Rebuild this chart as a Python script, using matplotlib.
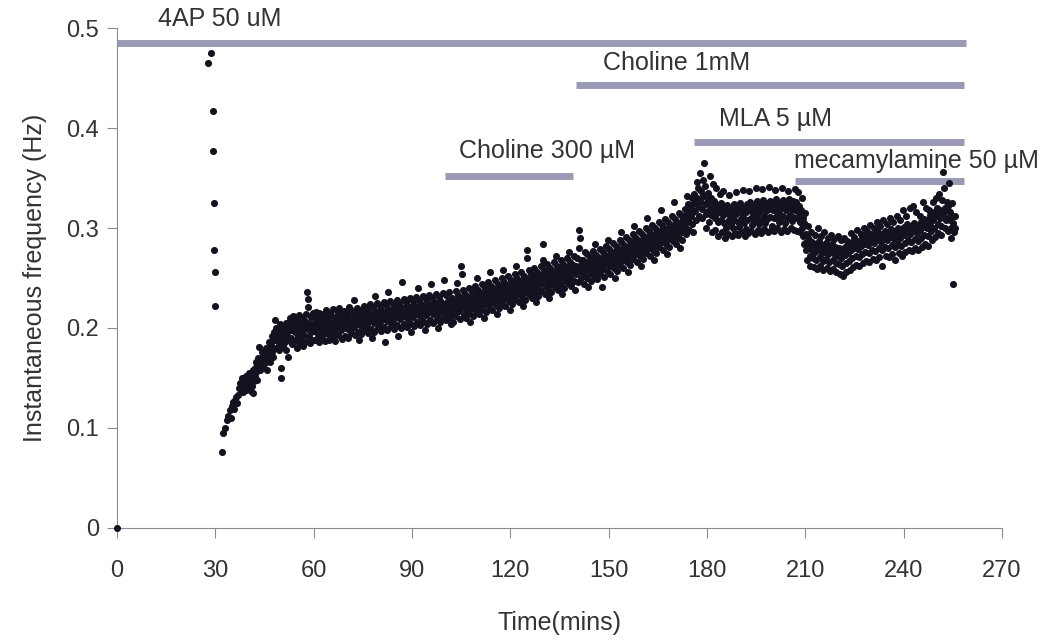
import matplotlib
matplotlib.use("Agg")
import matplotlib.pyplot as plt

plt.rcParams['font.family'] = ['Liberation Sans', 'DejaVu Sans']

# readings in mHz, one inner list per minute
onset_start = 32
onset_vals = [
    [76, 95], [100, 108], [112, 118, 110], [122, 126, 119], [128, 131, 125],
    [133, 140, 145, 138], [141, 150, 136, 147], [143, 138, 152, 146],
    [148, 140, 155, 145, 137], [150, 142, 158, 135, 147], [160, 152, 166, 148, 157],
    [170, 162, 181, 158, 168], [168, 176, 160, 172, 165], [173, 165, 180, 170, 158],
    [178, 170, 186, 175, 166, 182], [185, 176, 192, 180, 171, 188],
    [196, 208, 188, 180, 200, 192], [190, 198, 185, 178, 204, 195],
    [160, 150, 188, 195, 182, 200], [193, 186, 200, 178, 205, 190],
    [195, 171, 203, 188, 210, 198], [198, 190, 206, 184, 212, 200],
    [211, 205, 196, 188, 200, 180], [200, 192, 208, 185, 213, 197],
    [203, 195, 188, 210, 199, 182], [200, 193, 207, 186, 214, 204],
    [236, 229, 221, 205, 191, 198, 185], [204, 196, 211, 188, 200, 215],
]

early_start = 60
early_vals = [
    [205, 197, 212, 188, 201, 216], [200, 208, 193, 215, 186, 203],
    [208, 199, 214, 190, 204, 196], [203, 212, 195, 187, 207, 218],
    [201, 209, 194, 215, 188, 205], [206, 198, 213, 191, 202, 219],
    [204, 211, 196, 187, 208, 200], [209, 201, 216, 193, 205, 220],
    [203, 212, 198, 189, 207, 215], [208, 200, 217, 192, 204, 211],
    [206, 214, 199, 190, 210, 221], [211, 203, 218, 195, 207, 200],
    [209, 228, 201, 193, 214, 205], [213, 204, 220, 196, 209, 188],
    [210, 218, 202, 194, 215, 207], [214, 206, 222, 198, 210, 201],
    [212, 219, 204, 195, 216, 208], [215, 207, 224, 199, 211, 190],
    [213, 221, 205, 196, 217, 232], [216, 208, 225, 200, 212, 204],
    [214, 222, 206, 197, 218, 210], [217, 209, 226, 201, 213, 186],
    [215, 223, 207, 198, 219, 236], [218, 210, 227, 202, 214, 206],
    [216, 224, 208, 199, 220, 212], [219, 211, 228, 203, 215, 192],
    [217, 225, 209, 200, 221, 213], [246, 220, 212, 229, 204, 216],
    [218, 226, 210, 201, 222, 214], [221, 213, 230, 205, 217, 196],
    [219, 227, 211, 202, 223, 215], [222, 214, 231, 206, 218, 240],
    [220, 228, 212, 203, 224, 216], [223, 215, 232, 207, 219, 198],
    [221, 229, 213, 204, 225, 217], [224, 216, 233, 208, 220, 244],
    [222, 230, 214, 205, 226, 218], [225, 217, 234, 209, 221, 200],
    [223, 231, 215, 206, 227, 219], [226, 218, 235, 210, 222, 248],
]

ch300_start = 100
ch300_vals = [
    [224, 216, 233, 208, 220, 212], [227, 219, 236, 211, 223, 204],
    [222, 230, 214, 206, 226, 218], [228, 220, 237, 212, 224, 245],
    [225, 233, 217, 209, 229, 221], [262, 254, 229, 221, 238, 213],
    [226, 234, 218, 210, 230, 222], [231, 223, 240, 215, 227, 206],
    [228, 236, 220, 212, 232, 224], [233, 225, 242, 217, 229, 250],
    [230, 238, 222, 214, 234, 226], [235, 227, 244, 219, 231, 210],
    [232, 240, 224, 216, 236, 228], [237, 229, 246, 221, 233, 256],
    [234, 242, 226, 218, 238, 230], [239, 231, 248, 223, 235, 214],
    [236, 244, 228, 220, 240, 232], [241, 233, 250, 225, 237, 258],
    [238, 246, 230, 222, 242, 234], [243, 235, 252, 227, 239, 218],
    [240, 248, 232, 224, 244, 236], [245, 237, 254, 229, 241, 262],
    [242, 250, 234, 226, 246, 238], [247, 239, 256, 231, 243, 222],
    [244, 252, 236, 228, 248, 240], [278, 270, 249, 241, 258, 233],
    [246, 254, 238, 230, 250, 242], [251, 243, 260, 235, 247, 226],
    [248, 256, 240, 232, 252, 244], [253, 245, 262, 237, 249, 268],
    [284, 250, 258, 242, 234, 254], [255, 247, 264, 239, 251, 230],
    [252, 260, 244, 236, 256, 248], [257, 249, 266, 241, 253, 272],
    [254, 262, 246, 238, 258, 250], [259, 251, 268, 243, 255, 234],
    [256, 264, 248, 240, 260, 252], [261, 253, 270, 245, 257, 276],
    [258, 266, 250, 242, 262, 254], [263, 255, 272, 247, 259, 238],
]

ch1_start = 140
ch1_vals = [
    [262, 254, 270, 246, 258, 280], [298, 290, 262, 250, 268, 256],
    [260, 268, 252, 244, 264, 276], [266, 258, 274, 250, 262, 241],
    [263, 271, 255, 247, 267, 259], [268, 260, 277, 252, 264, 284],
    [265, 273, 257, 249, 269, 261], [270, 262, 279, 254, 266, 241],
    [267, 276, 259, 251, 272, 264], [273, 265, 282, 257, 269, 288],
    [270, 279, 262, 254, 275, 266], [276, 268, 285, 260, 272, 250],
    [273, 282, 265, 257, 278, 269], [279, 271, 288, 263, 275, 296],
    [276, 285, 268, 260, 281, 272], [282, 274, 291, 266, 278, 256],
    [279, 288, 271, 263, 284, 275], [285, 277, 294, 269, 281, 302],
    [282, 291, 274, 266, 287, 278], [288, 280, 297, 272, 284, 262],
    [285, 294, 277, 269, 290, 281], [291, 283, 300, 275, 287, 310],
    [288, 297, 280, 272, 293, 284], [294, 286, 303, 278, 290, 268],
    [291, 300, 283, 275, 296, 287], [297, 289, 306, 281, 293, 318],
    [294, 303, 286, 278, 299, 290], [300, 292, 309, 284, 296, 274],
    [297, 306, 289, 281, 302, 293], [303, 295, 312, 287, 299, 326],
    [300, 309, 292, 284, 305, 296], [306, 298, 315, 290, 302, 280],
    [304, 313, 296, 288, 309, 300], [310, 302, 319, 294, 306, 332],
    [315, 324, 307, 298, 320, 311], [320, 312, 330, 304, 316, 296],
]

mla_start = 176
mla_vals = [
    [325, 334, 317, 308, 330, 346], [330, 322, 340, 312, 326, 355],
    [328, 337, 319, 310, 333, 348], [365, 332, 324, 342, 314, 300],
    [326, 335, 317, 306, 331, 352], [322, 330, 313, 296, 326, 344],
    [318, 327, 310, 298, 323, 340], [315, 323, 306, 292, 319, 334],
    [316, 325, 308, 296, 320, 337], [313, 321, 305, 290, 317, 300],
    [315, 323, 307, 294, 319, 333], [312, 320, 304, 292, 316, 300],
    [316, 324, 308, 295, 320, 336], [314, 322, 306, 293, 318, 301],
    [317, 325, 309, 296, 321, 338], [313, 321, 305, 292, 317, 299],
    [316, 324, 308, 295, 320, 337], [318, 326, 310, 297, 322, 303],
    [315, 323, 307, 294, 319, 340], [319, 327, 311, 298, 323, 304],
    [316, 324, 308, 295, 320, 339], [320, 328, 312, 299, 324, 305],
    [317, 325, 309, 296, 321, 341], [319, 327, 311, 298, 323, 302],
    [318, 326, 310, 297, 322, 338], [321, 329, 313, 300, 325, 306],
    [317, 325, 309, 296, 321, 340], [320, 328, 312, 299, 324, 305],
    [318, 326, 310, 297, 322, 337], [321, 329, 313, 300, 325, 307],
    [319, 327, 311, 298, 323, 339],
]

mec_start = 207
mec_vals = [
    [318, 326, 310, 297, 322, 336], [315, 322, 306, 296, 318, 330],
    [300, 310, 292, 284, 305, 315], [285, 294, 278, 268, 290, 302],
    [280, 288, 272, 262, 284, 296], [278, 286, 270, 261, 282, 293],
    [276, 284, 268, 259, 280, 300], [279, 287, 271, 262, 283, 292],
    [275, 283, 267, 258, 279, 296], [277, 285, 269, 260, 281, 290],
    [274, 282, 266, 257, 278, 293], [276, 284, 268, 259, 280, 289],
    [273, 281, 265, 256, 277, 292], [272, 280, 264, 254, 276, 288],
    [270, 278, 262, 252, 274, 290], [273, 281, 265, 256, 277, 287],
    [275, 283, 267, 258, 279, 295], [278, 286, 270, 261, 282, 291],
    [280, 288, 272, 263, 284, 298], [279, 287, 271, 262, 283, 294],
    [282, 290, 274, 265, 286, 300], [284, 292, 276, 267, 288, 297],
    [283, 291, 275, 266, 287, 303], [286, 294, 278, 269, 290, 300],
    [285, 293, 277, 268, 289, 306], [288, 296, 280, 271, 292, 302],
    [286, 294, 278, 262, 290, 308], [289, 297, 281, 272, 293, 304],
    [288, 296, 280, 271, 292, 310], [291, 299, 283, 274, 295, 306],
    [289, 297, 281, 268, 293, 312], [292, 300, 284, 275, 296, 308],
    [290, 298, 282, 272, 294, 318], [293, 301, 285, 276, 297, 312],
    [296, 304, 288, 278, 300, 320], [294, 302, 286, 277, 298, 322],
    [297, 305, 289, 280, 301, 316], [295, 303, 287, 278, 299, 312],
    [298, 306, 290, 281, 302, 326], [301, 309, 293, 284, 305, 320],
    [300, 308, 292, 282, 304, 318], [305, 313, 297, 288, 309, 326],
    [308, 316, 300, 291, 312, 330], [312, 320, 304, 295, 316, 334],
    [310, 318, 302, 293, 314, 328], [356, 340, 316, 300, 320, 308],
    [318, 326, 310, 297, 322, 345], [308, 316, 300, 290, 312, 325],
    [244, 305, 296, 312, 300],
]

# first events after 4AP, and the point at the origin
burst_t = [0, 27.8, 28.7, 29.2, 29.4, 29.5, 29.7, 29.8, 30.0]
burst_v = [0, 0.465, 0.475, 0.417, 0.377, 0.325, 0.278, 0.256, 0.222]

# drug application bars
drug_names = ['4AP 50 uM', 'Choline 300 µM', 'Choline 1mM', 'MLA 5 µM', 'mecamylamine 50 µM']
drug_on = [0, 100, 140, 176, 207]
drug_off = [259, 139, 258.5, 258.5, 258.5]
drug_level = [0.485, 0.352, 0.443, 0.386, 0.347]
label_x = [31.4, 131.2, 170.8, 201, 244]
label_y = [0.509, 0.377, 0.465, 0.409, 0.367]

x_ticks = [0, 30, 60, 90, 120, 150, 180, 210, 240, 270]
y_ticks = [0, 0.1, 0.2, 0.3, 0.4, 0.5]
y_ticklabels = ['0', '0.1', '0.2', '0.3', '0.4', '0.5']

times = list(burst_t)
freqs = list(burst_v)
for start, rows in [(onset_start, onset_vals), (early_start, early_vals),
                    (ch300_start, ch300_vals), (ch1_start, ch1_vals),
                    (mla_start, mla_vals), (mec_start, mec_vals)]:
    for i, row in enumerate(rows):
        for j, v in enumerate(row):
            times.append(start + i + j / len(row))
            freqs.append(v / 1000)

fig = plt.figure(figsize=(10.49, 6.41), dpi=100)
ax = fig.add_axes([0.1115, 0.1763, 0.8437, 0.78])

ax.scatter(times, freqs, s=26, color='#15121f', linewidths=0, clip_on=False, zorder=3)

for name, t0, t1, lev, lx, ly in zip(drug_names, drug_on, drug_off, drug_level, label_x, label_y):
    ax.hlines(lev, t0, t1, color='#9a9ab6', linewidth=5, clip_on=False, zorder=2)
    ax.text(lx, ly, name, ha='center', va='center', fontsize=18, color='#333333')

ax.set_xlim(0, 270)
ax.set_ylim(0, 0.5)
ax.set_xticks(x_ticks)
ax.set_yticks(y_ticks)
ax.set_yticklabels(y_ticklabels)

for side in ['top', 'right']:
    ax.spines[side].set_visible(False)
for side in ['left', 'bottom']:
    ax.spines[side].set_color('#8c8c8c')
ax.tick_params(direction='out', length=7, color='#8c8c8c', labelsize=17,
               labelcolor='#333333')
ax.tick_params(axis='x', pad=16)
ax.tick_params(axis='y', pad=6)

ax.set_xlabel('Time(mins)', fontsize=18, color='#333333', labelpad=21)
ax.set_ylabel('Instantaneous frequency (Hz)', fontsize=18, color='#333333', labelpad=14)

fig.savefig('out.png', dpi=100)
